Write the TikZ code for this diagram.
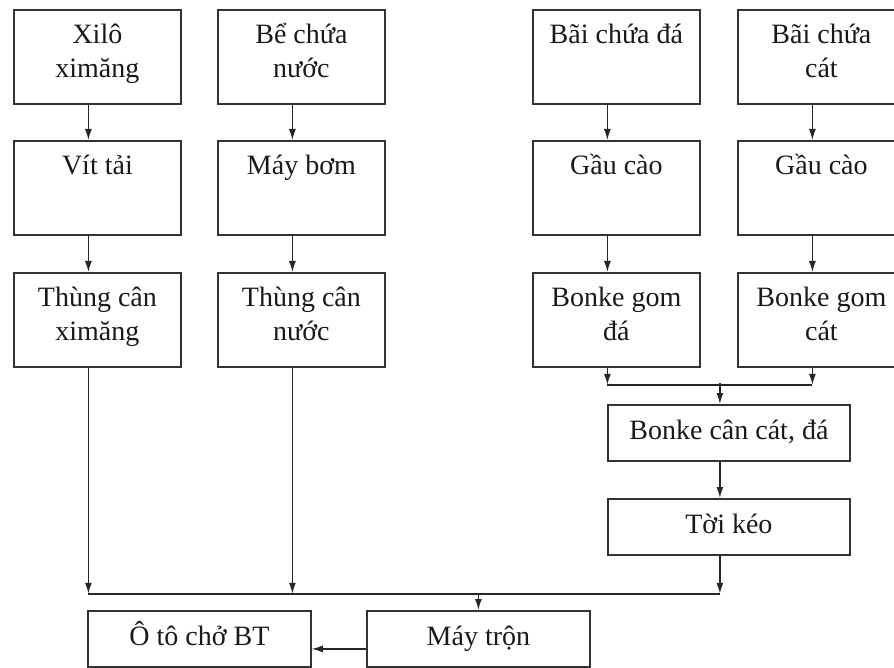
\documentclass[tikz,border=0pt]{standalone}
\usepackage{fontspec}
\setmainfont{Liberation Serif}
\usetikzlibrary{arrows.meta,calc}
\newcommand\firstln{\rule{0pt}{27pt}}
\begin{document}
\begin{tikzpicture}[x=1pt,y=-1pt,
  box/.style={draw=black!80, line width=1.8pt, minimum width=167pt, minimum height=94pt, inner sep=0pt, anchor=north west},
  lbl/.style={font=\fontsize{28}{34}\selectfont, align=center, anchor=north, inner sep=0pt, text=black!90},
  wbox/.style={draw=black!80, line width=1.8pt, minimum height=56pt, inner sep=0pt, anchor=north west, font=\fontsize{28}{34}\selectfont, text height=20pt, text depth=6pt, text=black!90},
  arr/.style={draw=black!85, line width=1.4pt, -{Latex[length=11pt,width=7pt]}},
  ln/.style={draw=black!85, line width=1.4pt}]
\useasboundingbox (0,0) rectangle (894,668);
% column 1
\node[box] (xilo) at (13,9) {};
\node[box] (vit) at (13,140) {};
\node[box] (tcx) at (13,272) {};
% column 2
\node[box] (be) at (217,9) {};
\node[box] (bom) at (217,140) {};
\node[box] (tcn) at (217,272) {};
% column 3
\node[box] (bcd) at (532,9) {};
\node[box] (gcd) at (532,140) {};
\node[box] (bgd) at (532,272) {};
% column 4
\node[box] (bcc) at (737,9) {};
\node[box] (gcc) at (737,140) {};
\node[box] (bgc) at (737,272) {};
% labels
\node[lbl] (xilot) at ($(xilo.north)+(0,7)$) {\firstln Xilô\\ximăng};
\node[lbl] (vitt) at ($(vit.north)+(0,7)$) {\firstln Vít tải};
\node[lbl] (tcxt) at ($(tcx.north)+(0,7)$) {\firstln Thùng cân\\ximăng};
\node[lbl] (bet) at ($(be.north)+(0,7)$) {\firstln Bể chứa\\nước};
\node[lbl] (bomt) at ($(bom.north)+(0,7)$) {\firstln Máy bơm};
\node[lbl] (tcnt) at ($(tcn.north)+(0,7)$) {\firstln Thùng cân\\nước};
\node[lbl] (bcdt) at ($(bcd.north)+(0,7)$) {\firstln Bãi chứa đá};
\node[lbl] (gcdt) at ($(gcd.north)+(0,7)$) {\firstln Gầu cào};
\node[lbl] (bgdt) at ($(bgd.north)+(0,7)$) {\firstln Bonke gom\\đá};
\node[lbl] (bcct) at ($(bcc.north)+(0,7)$) {\firstln Bãi chứa\\cát};
\node[lbl] (gcct) at ($(gcc.north)+(0,7)$) {\firstln Gầu cào};
\node[lbl] (bgct) at ($(bgc.north)+(0,7)$) {\firstln Bonke gom\\cát};
% lower boxes
\node[wbox, minimum width=242pt] (bcan) at (607,404) {Bonke cân cát, đá};
\node[wbox, minimum width=242pt] (toi) at (607,498) {Tời kéo};
\node[wbox, minimum width=223pt] (may) at (366,610) {Máy trộn};
\node[wbox, minimum width=223pt] (oto) at (87,610) {Ô tô chở BT};
% vertical arrows between rows
\foreach \a/\b in {xilo/vit, vit/tcx, be/bom, bom/tcn, bcd/gcd, gcd/bgd, bcc/gcc, gcc/bgc}
  \draw[arr] ($(\a.south)+(-9,0)$) -- ($(\b.north)+(-9,0)$);
% merge of bonke gom
\coordinate (j1) at ($(bgd.south)+(-9,17)$);
\coordinate (j2) at ($(bgc.south)+(-9,17)$);
\coordinate (j3) at ($(bcan.north)+(-9,-21)$);
\draw[arr] ($(bgd.south)+(-9,0)$) -- (j1);
\draw[arr] ($(bgc.south)+(-9,0)$) -- (j2);
\draw[ln] (j1) -- (j2);
\draw[arr] (j3) -- ($(bcan.north)+(-9,0)$);
\draw[arr] ($(bcan.south)+(-9,0)$) -- ($(toi.north)+(-9,0)$);
% collector line
\coordinate (b1) at ($(tcx.south)+(-9,226)$);
\coordinate (b2) at ($(tcn.south)+(-9,226)$);
\coordinate (b3) at ($(toi.south)+(-9,38)$);
\coordinate (b4) at (may.north |- b1);
\draw[arr] ($(tcx.south)+(-9,0)$) -- (b1);
\draw[arr] ($(tcn.south)+(-9,0)$) -- (b2);
\draw[arr] ($(toi.south)+(-9,0)$) -- (b3);
\draw[ln] (b1) -- (b3);
\draw[arr] (b4) -- (may.north);
\draw[arr] ($(may.west)+(0,10)$) -- ($(oto.east)+(0,10)$);
\end{tikzpicture}
\end{document}
